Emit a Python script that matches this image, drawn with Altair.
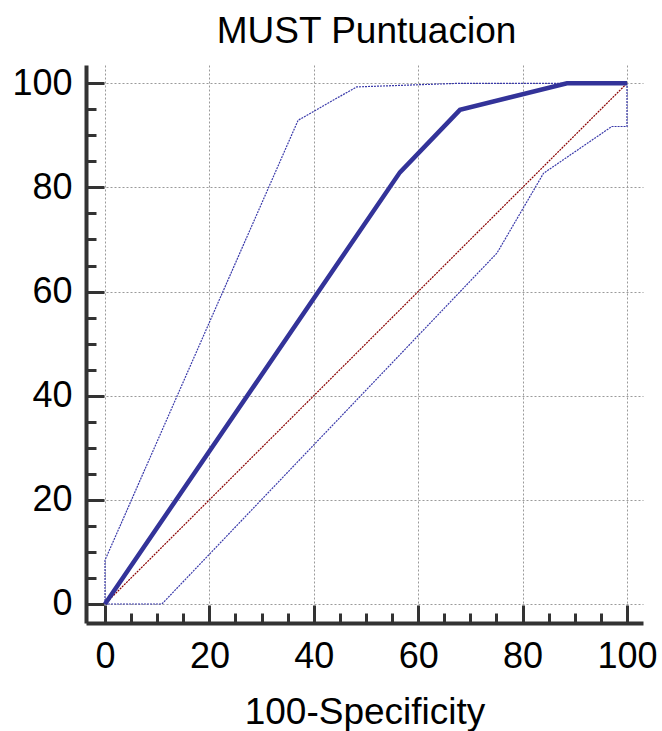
import altair as alt
import pandas as pd

# ROC curve and its confidence bounds
roc_x = [0, 56.5, 68.0, 88.5, 100]
roc_y = [0, 82.9, 94.9, 100, 100]

upper_x = [0, 0, 37.0, 48.2, 68.0, 100]
upper_y = [0, 8.4, 92.9, 99.3, 100, 100]

lower_x = [0, 10.9, 75.1, 84.0, 97.1, 100, 100]
lower_y = [0, 0, 67.4, 82.7, 91.7, 91.7, 100]

diag_x = [0, 100]
diag_y = [0, 100]

major_ticks = [0, 20, 40, 60, 80, 100]
minor_ticks = [5, 10, 15, 25, 30, 35, 45, 50, 55, 65, 70, 75, 85, 90, 95]

TITLE = "MUST Puntuacion"
X_TITLE = "100-Specificity"


def frame(xs, ys):
    return pd.DataFrame({"x": xs, "y": ys, "i": list(range(len(xs)))})


W, H = 557, 558
FONT = "Liberation Sans"
AX = "#333333"

xscale = alt.Scale(domain=[-3.64, 103.07], nice=False, zero=False)
yscale = alt.Scale(domain=[-3.65, 103.51], nice=False, zero=False)

# label / grid / domain axes
x_label_axis = alt.Axis(
    orient="bottom", values=major_ticks, title=X_TITLE,
    grid=True, gridColor="#9a9a9a", gridDash=[2, 2], gridWidth=1,
    ticks=False, tickSize=0, domain=True, domainColor=AX, domainWidth=4,
    labelFont=FONT, labelFontSize=36, labelColor="black", labelPadding=16,
    labelFlush=False, labelOverlap=False, labelBound=False,
    titleFont=FONT, titleFontSize=37, titleFontWeight="normal", titleColor="black",
    titleY=100, titleBaseline="alphabetic",
)
y_label_axis = alt.Axis(
    orient="left", values=major_ticks, title="",
    grid=True, gridColor="#9a9a9a", gridDash=[2, 2], gridWidth=1,
    ticks=False, tickSize=0, domain=True, domainColor=AX, domainWidth=4,
    labelFont=FONT, labelFontSize=36, labelColor="black", labelPadding=14,
    labelFlush=False, labelOverlap=False, labelBound=False,
)

# inward-pointing major ticks
x_major_axis = alt.Axis(
    orient="top", offset=-H, values=major_ticks, title="",
    grid=False, domain=False, labels=False,
    ticks=True, tickSize=18, tickWidth=3, tickColor=AX,
)
y_major_axis = alt.Axis(
    orient="right", offset=-W, values=major_ticks, title="",
    grid=False, domain=False, labels=False,
    ticks=True, tickSize=18, tickWidth=3, tickColor=AX,
)

# inward-pointing minor ticks
x_minor_axis = alt.Axis(
    orient="top", offset=-H, values=minor_ticks, title="",
    grid=False, domain=False, labels=False,
    ticks=True, tickSize=10, tickWidth=3, tickColor=AX,
)
y_minor_axis = alt.Axis(
    orient="right", offset=-W, values=minor_ticks, title="",
    grid=False, domain=False, labels=False,
    ticks=True, tickSize=10, tickWidth=3, tickColor=AX,
)


def line(df, xaxis, yaxis, **mark):
    return alt.Chart(df).mark_line(**mark).encode(
        x=alt.X("x:Q", scale=xscale, axis=xaxis),
        y=alt.Y("y:Q", scale=yscale, axis=yaxis),
        order="i:O",
    )


diag = line(frame(diag_x, diag_y), x_label_axis, y_label_axis,
            color="#8b0000", strokeWidth=1.2, strokeDash=[2, 1])
lower = line(frame(lower_x, lower_y), x_major_axis, y_major_axis,
             color="#3a3aaa", strokeWidth=1.2, strokeDash=[2, 1])
upper = line(frame(upper_x, upper_y), x_minor_axis, y_minor_axis,
             color="#3a3aaa", strokeWidth=1.2, strokeDash=[2, 1])
main = line(frame(roc_x, roc_y), None, None,
            color="#333399", strokeWidth=4.5)

chart = (
    alt.layer(diag, lower, upper, main)
    .resolve_scale(x="shared", y="shared")
    .resolve_axis(x="independent", y="independent")
    .properties(
        width=W, height=H,
        autosize=alt.AutoSizeParams(type="none"),
        padding={"left": 86, "top": 65, "right": 19, "bottom": 108},
        background="white",
        title=alt.TitleParams(
            TITLE, font=FONT, fontSize=37, fontWeight="normal", color="black",
            anchor="middle", baseline="alphabetic", offset=20, dy=35, dx=2,
            frame="group",
        ),
    )
    .configure_view(stroke=None)
)

chart.save("out.html", embed_options={"renderer": "svg", "actions": False})
